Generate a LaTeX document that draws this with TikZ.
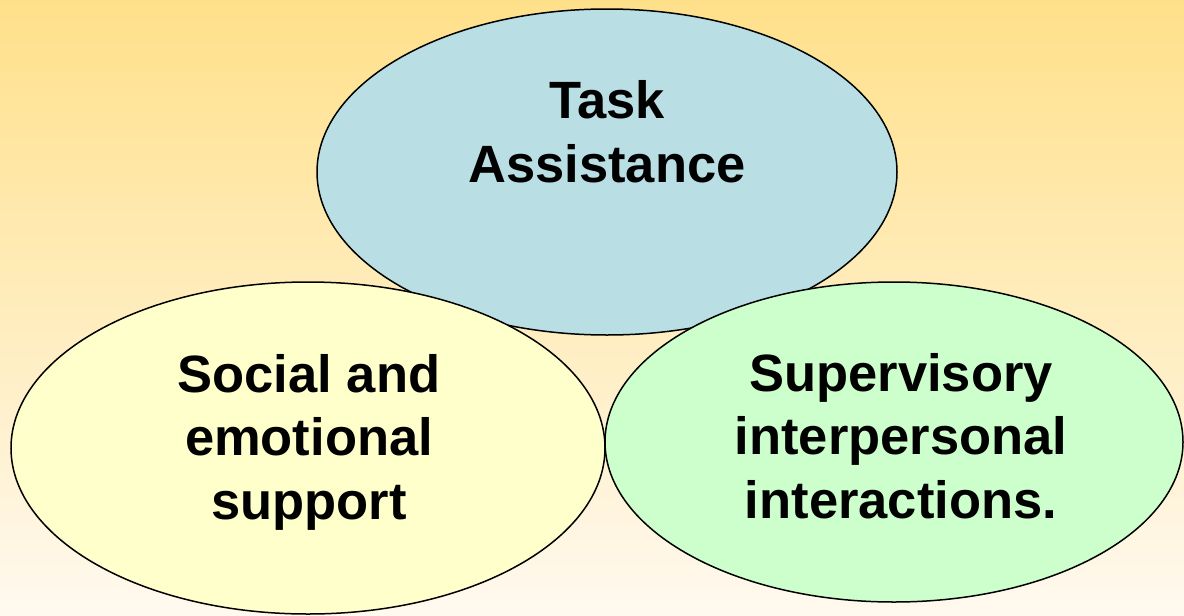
\documentclass[tikz,border=0pt]{standalone}
\usepackage{fontspec}
\setmainfont{Liberation Sans}
\usetikzlibrary{shapes.geometric}
\definecolor{bgtop}{HTML}{FFE08A}
\definecolor{bgbot}{HTML}{FFF9EF}
\definecolor{blueell}{HTML}{B9DFE5}
\definecolor{yellowell}{HTML}{FFFFCC}
\definecolor{greenell}{HTML}{CCFFCC}
\tikzset{
  blob/.style={ellipse, draw=black, line width=1.5pt, inner sep=0pt, outer sep=0pt},
  lbl/.style={align=center, anchor=base, inner sep=0pt,
    font=\fontsize{52.5pt}{63.5pt}\selectfont\bfseries}
}
\begin{document}
\begin{tikzpicture}[x=1pt, y=-1pt]
  \shade[top color=bgtop, bottom color=bgbot] (0,0) rectangle (1184,616);
  \useasboundingbox (0,0) rectangle (1184,616);
  \node[blob, fill=blueell, minimum width=580pt, minimum height=326pt] (task) at (607,172) {};
  \node[blob, fill=yellowell, minimum width=594pt, minimum height=332pt] (social) at (308,448) {};
  \node[blob, fill=greenell, minimum width=578pt, minimum height=320pt] (superv) at (894,442) {};
  \node[lbl] (tasklbl) at (607,182) {Task\\Assistance};
  \node[lbl] (sociallbl) at (309,519) {Social and\\emotional\\support};
  \node[lbl] (supervlbl) at (901,518) {Supervisory\\interpersonal\\interactions.};
\end{tikzpicture}
\end{document}
